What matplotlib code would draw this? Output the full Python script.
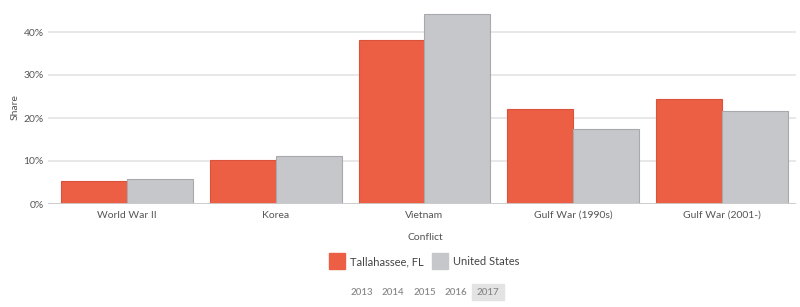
import matplotlib
matplotlib.use("Agg")
import matplotlib.pyplot as plt
import numpy as np
from matplotlib.patches import Rectangle

categories = ["World War II", "Korea", "Vietnam", "Gulf War (1990s)", "Gulf War (2001-)"]
tallahassee = [5.4, 10.3, 38.2, 22.1, 24.4]
united_states = [5.9, 11.2, 44.2, 17.4, 21.6]
series_names = ["Tallahassee, FL", "United States"]
years = ["2013", "2014", "2015", "2016", "2017"]
yticks = [0, 10, 20, 30, 40]

plt.rcParams['font.family'] = ['Lato', 'DejaVu Sans']
txt = "#555555"
red = "#EC5F45"
red_edge = "#D9533C"
gray = "#C6C7CB"
gray_edge = "#A8A9AD"

fig = plt.figure(figsize=(8, 3.07), dpi=100)
ax = fig.add_axes([48/800, 1-204/307, (796-48)/800, (204-10.5)/307])

x = np.arange(len(categories))
w = 0.443
ax.bar(x - w/2, tallahassee, w, color=red, edgecolor=red_edge, linewidth=0.8, zorder=3)
ax.bar(x + w/2, united_states, w, color=gray, edgecolor=gray_edge, linewidth=0.8, zorder=3)

ax.set_xlim(-0.532, len(categories) - 0.5)
ax.set_ylim(0, 45)
ax.set_yticks(yticks)
ax.set_yticklabels([f"{v}%" for v in yticks], fontsize=7.5, color=txt)
ax.set_xticks(x)
ax.set_xticklabels(categories, fontsize=7.5, color=txt)
ax.tick_params(axis='y', length=0, pad=3)
ax.tick_params(axis='x', length=0, pad=5)
for s in ax.spines.values():
    s.set_visible(False)
ax.grid(axis='y', color="#E6E6E6", linewidth=1.3, zorder=0)
ax.axhline(0, color="#CCCCCC", linewidth=1.3, zorder=4)
ax.set_ylabel("Share", fontsize=7.5, color=txt)
ax.yaxis.set_label_coords(-(48-20)/748, 0.5)
ax.set_xlabel("Conflict", fontsize=7.5, color=txt)
ax.xaxis.set_label_coords(0.5 + (425 - (48+796)/2)/748, -(238-204)/193.5)
ax.xaxis.label.set_va('center')

# legend and year selector in pixel coordinates
ov = fig.add_axes([0, 0, 1, 1], facecolor='none')
ov.set_xlim(0, 800)
ov.set_ylim(307, 0)
ov.axis('off')
ov.add_patch(Rectangle((329, 253), 16, 16, color=red))
ov.text(350, 261.5, series_names[0], fontsize=8, color="#444444", va='center', ha='left')
ov.add_patch(Rectangle((432, 253), 16, 16, color=gray))
ov.text(453, 261.5, series_names[1], fontsize=8, color="#444444", va='center', ha='left')

xs = [362, 393, 425, 456, 488]
ov.add_patch(Rectangle((472, 284), 32, 16, color="#E3E3E3"))
for xx, yr in zip(xs, years):
    ov.text(xx, 292.5, yr, fontsize=7, color="#8A8A8A", va='center', ha='center', fontweight='semibold')

fig.savefig("out.png", dpi=100)
